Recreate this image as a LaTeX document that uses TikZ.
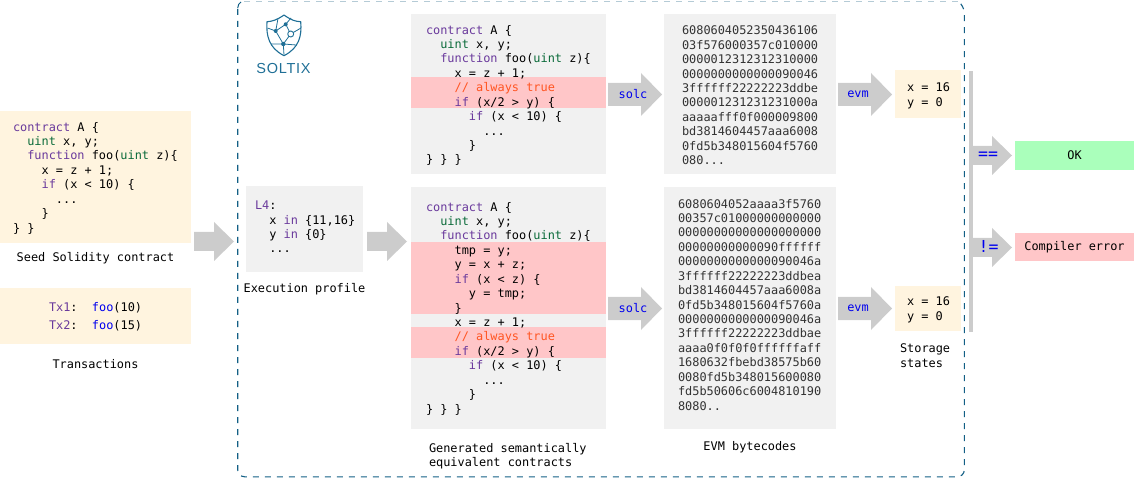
\documentclass[tikz,border=0pt]{standalone}
\usepackage{fontspec}
\setmainfont{DejaVu Sans Mono}
\setmonofont{DejaVu Sans Mono}
\newfontfamily\logofont[LetterSpace=5]{Liberation Sans}
\definecolor{cream}{HTML}{FFF4DF}
\definecolor{panel}{HTML}{F1F1F1}
\definecolor{band}{HTML}{FFC6C8}
\definecolor{okgreen}{HTML}{AAFFBB}
\definecolor{arrowgrey}{HTML}{CCCCCC}
\definecolor{kw}{HTML}{6A3A9C}
\definecolor{ty}{HTML}{0B6B3A}
\definecolor{call}{HTML}{0000EE}
\definecolor{cm}{HTML}{FF5522}
\definecolor{teal}{HTML}{1F6F96}
\definecolor{framec}{HTML}{135F85}
\definecolor{framepale}{HTML}{B5CBD6}
\definecolor{hexc}{HTML}{333333}
\newcommand\K[1]{\textcolor{kw}{#1}}
\newcommand\T[1]{\textcolor{ty}{#1}}
\newcommand\C[1]{\textcolor{call}{#1}}
\newcommand\M[1]{\textcolor{cm}{#1}}
\newcommand\blockarrow[6]{% x0, xhead, x1, ymid, shaft half, head half
  \fill[arrowgrey] (#1,{#4-#5}) -- (#2,{#4-#5}) -- (#2,{#4-#6}) -- (#3,#4)
    -- (#2,{#4+#6}) -- (#2,{#4+#5}) -- (#1,{#4+#5}) -- cycle;}
\tikzset{
  x=1pt,y=-1pt,
  boxnode/.style={inner sep=0pt,outer sep=0pt,anchor=north west,draw=none},
  code/.style={inner sep=0pt,outer sep=0pt,anchor=north west,align=left,
    font=\fontsize{11.9}{14.43}\selectfont},
  hexcode/.style={code,text=hexc},
  lbl/.style={inner sep=0pt,outer sep=0pt,font=\fontsize{11.9}{14.3}\selectfont},
  oplabel/.style={lbl,text=call},
  bigop/.style={inner sep=0pt,outer sep=0pt,text=call,font=\fontsize{16.5}{16.5}\selectfont},
  logoline/.style={draw=teal,line width=1pt,line join=round},
  framedash/.style={line width=1.1pt,dash pattern=on 6pt off 6pt},
}
\newcommand\bx[7]{% name x0 y0 x1 y1 fill
  \node[boxnode,fill=#6,minimum width=#4pt-#2pt,minimum height=#5pt-#3pt] (#1) at (#2,#3) {#7};}
\begin{document}
\begin{tikzpicture}
\path[use as bounding box] (0,0) rectangle (1135,478);
% frame
\draw[framepale,framedash] (244,1.5) -- (958,1.5);
\draw[framec,framedash,rounded corners=7pt] (237.7,9) -- (237.7,476.8) -- (964.3,476.8) -- (964.3,6) -- (961,3.5);
\draw[framec,line width=1pt] (237.7,8) .. controls (238,5) and (239,3) .. (241,2);
% boxes
\bx{seed}{0}{111}{190.5}{243}{cream}{}
\bx{tx}{0}{288}{190.5}{344}{cream}{}
\bx{prof}{246}{186}{363}{272}{panel}{}
\bx{ca}{411}{14}{606}{174}{panel}{}
\bx{cb}{411}{187}{606}{429}{panel}{}
\bx{ba}{664}{14}{836}{174}{panel}{}
\bx{bb}{664}{187}{836}{429}{panel}{}
\bx{sa}{895}{70}{961}{118}{cream}{}
\bx{sb}{895}{286}{961}{331}{cream}{}
\bx{bandA}{411}{77}{606}{108}{band}{}
\bx{bandB}{411}{242}{606}{314}{band}{}
\bx{bandC}{411}{327}{606}{358}{band}{}
% arrows
\blockarrow{194}{214}{234}{241.5}{9.5}{19.5}
\blockarrow{367}{387}{407}{241.5}{9.5}{19.5}
\blockarrow{608}{641}{662}{94.5}{11.5}{21.5}
\blockarrow{838}{871}{892}{94.5}{11.5}{21.5}
\blockarrow{608}{641}{662}{308.5}{11.5}{21.5}
\blockarrow{838}{871}{892}{308.5}{11.5}{21.5}
\blockarrow{973}{992}{1012}{155.5}{9.5}{19.5}
\blockarrow{973}{992}{1012}{247.5}{9.5}{19.5}
\fill[arrowgrey] (969,71) rectangle (973,332);
% result boxes
\node[boxnode,fill=okgreen,minimum width=119pt,minimum height=29pt,font=\fontsize{11.9}{14}\selectfont] (ok) at (1015,141) {OK};
\node[boxnode,fill=band,minimum width=119pt,minimum height=28.5pt,font=\fontsize{11.9}{14}\selectfont] (err) at (1015,233) {Compiler error};
% code
\node[code] (seedtext) at (13,122) {\K{contract} A \{\\
\ \ \T{uint} x, y;\\
\ \ \K{function} foo(\T{uint} z)\{\\
\ \ \ \ x = z + 1;\\
\ \ \ \ \K{if} (x < 10) \{\\
\ \ \ \ \ \ ...\\
\ \ \ \ \}\\
\} \}};
\node[code] (txtext) at (49,302) {\K{Tx1}:\ \ \C{foo}(10)\\[3.6pt]\K{Tx2}:\ \ \C{foo}(15)};
\node[code] (proftext) at (255,201) {\K{L4}:\\
\ \ x \K{in} \{11,16\}\\
\ \ y \K{in} \{0\}\\
\ \ ...};
\node[code] (catext) at (426,25) {\K{contract} A \{\\
\ \ \T{uint} x, y;\\
\ \ \K{function} foo(\T{uint} z)\{\\
\ \ \ \ x = z + 1;\\
\ \ \ \ \M{// always true}\\
\ \ \ \ \K{if} (x/2 > y) \{\\
\ \ \ \ \ \ \K{if} (x < 10) \{\\
\ \ \ \ \ \ \ \ ...\\
\ \ \ \ \ \ \}\\
\} \} \}};
\node[code] (cbtext) at (426,202) {\K{contract} A \{\\
\ \ \T{uint} x, y;\\
\ \ \K{function} foo(\T{uint} z)\{\\
\ \ \ \ tmp = y;\\
\ \ \ \ y = x + z;\\
\ \ \ \ \K{if} (x < z) \{\\
\ \ \ \ \ \ y = tmp;\\
\ \ \ \ \}\\
\ \ \ \ x = z + 1;\\
\ \ \ \ \M{// always true}\\
\ \ \ \ \K{if} (x/2 > y) \{\\
\ \ \ \ \ \ \K{if} (x < 10) \{\\
\ \ \ \ \ \ \ \ ...\\
\ \ \ \ \ \ \}\\
\} \} \}};
\node[hexcode] (batext) at (682,26) {6080604052350436106\\
03f576000357c010000\\
0000012312312310000\\
0000000000000090046\\
3ffffff22222223ddbe\\
000001231231231000a\\
aaaaafff0f000009800\\
bd3814604457aaa6008\\
0fd5b348015604f5760\\
080...};
\node[hexcode] (bbtext) at (678,199) {6080604052aaaa3f5760\\
00357c01000000000000\\
00000000000000000000\\
00000000000090ffffff\\
0000000000000090046a\\
3ffffff22222223ddbea\\
bd3814604457aaa6008a\\
0fd5b348015604f5760a\\
0000000000000090046a\\
3ffffff22222223ddbae\\
aaaa0f0f0f0ffffffaff\\
1680632fbebd38575b60\\
0080fd5b348015600080\\
fd5b50606c6004810190\\
8080..};
\node[code] (satext) at (907,83) {x = 16\\y = 0};
\node[code] (sbtext) at (907,297) {x = 16\\y = 0};
% labels
\node[lbl] (seedlbl) at (95.5,258.5) {Seed Solidity contract};
\node[lbl] (txlbl) at (95.5,364.5) {Transactions};
\node[lbl] (proflbl) at (304.5,289.5) {Execution profile};
\node[code] (genlbl) at (429,443) {Generated semantically\\equivalent contracts};
\node[lbl] (evmlbl) at (750,447.5) {EVM bytecodes};
\node[code] (stlbl) at (900,344) {Storage\\states};
\node[oplabel] (solcA) at (633,94) {solc};
\node[oplabel] (evmA) at (858,94) {evm};
\node[oplabel] (solcB) at (633,308) {solc};
\node[oplabel] (evmB) at (858,308) {evm};
\node[bigop] (eq) at (988,155.5) {==};
\node[bigop] (ne) at (988.5,246.5) {!=};
% logo
\draw[logoline,line width=1.1pt] (284,15) .. controls (277,20) and (272,21.5) .. (267,21.7)
  .. controls (266,36) and (269,48) .. (284,55.7)
  .. controls (299,48) and (302,36) .. (300.7,21.7)
  .. controls (295,21.5) and (291,20) .. (284,15) -- cycle;
\draw[logoline,line width=.8pt] (275.7,31) -- (285.7,24.3) -- (290.7,34) -- (283.3,44) -- (275.7,31);
\draw[logoline,line width=.8pt] (267.5,28) -- (275.7,31) (278,18.5) -- (275.7,31) (285.7,24.3) -- (291,18) (290.7,34) -- (301,28)
  (283.3,44) -- (271,44) (283.3,44) -- (296,45) (283.3,44) -- (284,55);
\fill[teal] (275.7,31) circle (2pt) (285.7,24.3) circle (2pt) (283.3,44) circle (2.2pt);
\draw[logoline,fill=white,line width=.9pt] (290.7,34) circle (3pt);
\node[inner sep=0pt,text=teal,anchor=center,font=\logofont\fontsize{14.5}{15}\selectfont] (logo) at (283.5,69) {SOLTIX};
\end{tikzpicture}
\end{document}
